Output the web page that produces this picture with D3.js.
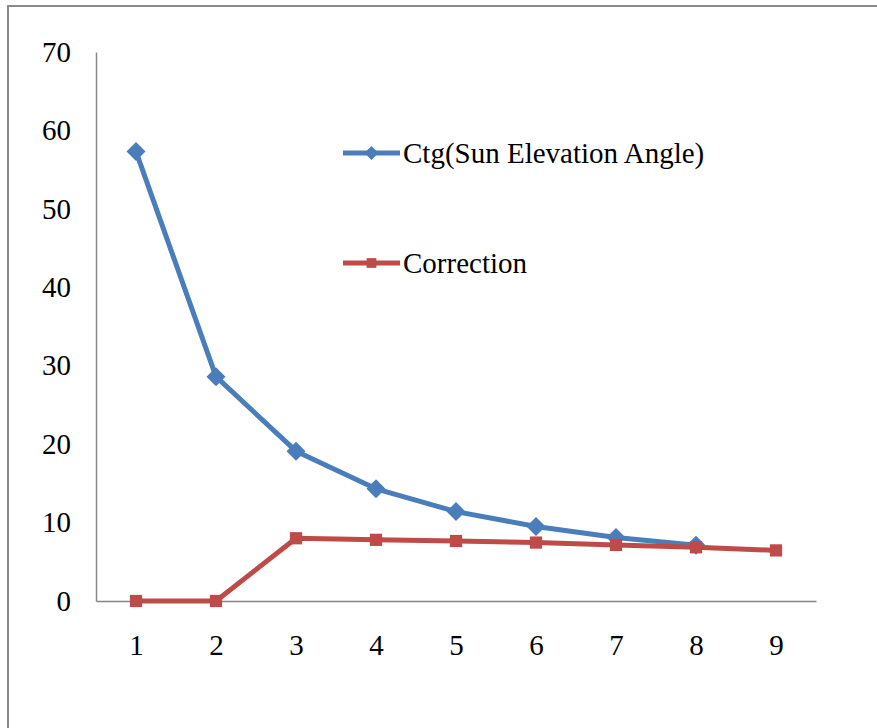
<!DOCTYPE html>
<html>
<head>
<meta charset="utf-8">
<script src="https://cdn.jsdelivr.net/npm/d3@7"></script>
<style>
  html, body { margin: 0; padding: 0; background: #fff; }
  svg { display: block; }
</style>
</head>
<body>
<svg id="chart" width="877" height="728"></svg>
<script>
// Sun elevation angle (degrees) along the category axis
const angles = [1, 2, 3, 4, 5, 6, 7, 8, 9];
// Cotangent of the sun elevation angle (no value at 9)
const ctgValues = [57.3, 28.6, 19.1, 14.3, 11.4, 9.5, 8.1, 7.1];
// Applied correction
const correctionValues = [0, 0, 8.0, 7.8, 7.65, 7.45, 7.15, 6.85, 6.45];
// Value axis ticks
const yTicks = [0, 10, 20, 30, 40, 50, 60, 70];

const seriesNames = ["Ctg(Sun Elevation Angle)", "Correction"];
const seriesColors = ["#4A7EBB", "#BE4B48"];

const FONT = '"Liberation Serif", "Times New Roman", Tinos, "DejaVu Serif", serif';
const FONT_SIZE = "29px";

const svg = d3.select("#chart");

// chart area frame (runs past the right and bottom edges)
svg.append("rect")
  .attr("x", 8).attr("y", 6)
  .attr("width", 900).attr("height", 760)
  .attr("fill", "none")
  .attr("stroke", "#8a8a8a")
  .attr("stroke-width", 2);

const x = d3.scalePoint().domain(angles).range([96, 816]).padding(0.5);
const y = d3.scaleLinear().domain([0, 70]).range([601, 52]);

// y axis
const yAxis = svg.append("g")
  .attr("transform", "translate(96,0)")
  .call(d3.axisLeft(y).tickValues(yTicks).tickSize(0).tickPadding(25));
yAxis.attr("font-family", null).attr("font-size", null);
yAxis.select(".domain").attr("stroke", "#868686").attr("stroke-width", 1.5);
yAxis.selectAll("text").style("font-family", FONT).style("font-size", FONT_SIZE).attr("fill", "#000");

// x axis
const xAxis = svg.append("g")
  .attr("transform", "translate(0,601)")
  .call(d3.axisBottom(x).tickSize(0).tickPadding(33));
xAxis.attr("font-family", null).attr("font-size", null);
xAxis.select(".domain").attr("stroke", "#868686").attr("stroke-width", 1.5);
xAxis.selectAll("text").style("font-family", FONT).style("font-size", FONT_SIZE).attr("fill", "#000");

// diamonds are squares turned by 45 degrees
const series = [
  { name: seriesNames[0], values: ctgValues, color: seriesColors[0], rotate: 45, size: 180, legendSize: 100 },
  { name: seriesNames[1], values: correctionValues, color: seriesColors[1], rotate: 0, size: 150, legendSize: 95 }
];

const line = d3.line().x((d, i) => x(angles[i])).y(d => y(d));

series.forEach(s => {
  const g = svg.append("g");
  g.append("path")
    .datum(s.values)
    .attr("d", line)
    .attr("fill", "none")
    .attr("stroke", s.color)
    .attr("stroke-width", 5)
    .attr("stroke-linejoin", "round");
  g.selectAll("path.marker")
    .data(s.values)
    .join("path")
    .attr("class", "marker")
    .attr("d", d3.symbol().type(d3.symbolSquare).size(s.size))
    .attr("transform", (d, i) => `translate(${x(angles[i])},${y(d)}) rotate(${s.rotate})`)
    .attr("fill", s.color);
});

// legend
const legendY = [153, 263];
series.forEach((s, i) => {
  const g = svg.append("g").attr("transform", `translate(343,${legendY[i]})`);
  g.append("line")
    .attr("x1", 0).attr("x2", 57)
    .attr("stroke", s.color).attr("stroke-width", 5);
  g.append("path")
    .attr("d", d3.symbol().type(d3.symbolSquare).size(s.legendSize))
    .attr("transform", `translate(28.5,0) rotate(${s.rotate})`)
    .attr("fill", s.color);
  g.append("text")
    .attr("x", 60).attr("dy", "0.35em")
    .style("font-family", FONT)
    .style("font-size", FONT_SIZE)
    .attr("fill", "#000")
    .text(s.name);
});
</script>
</body>
</html>
